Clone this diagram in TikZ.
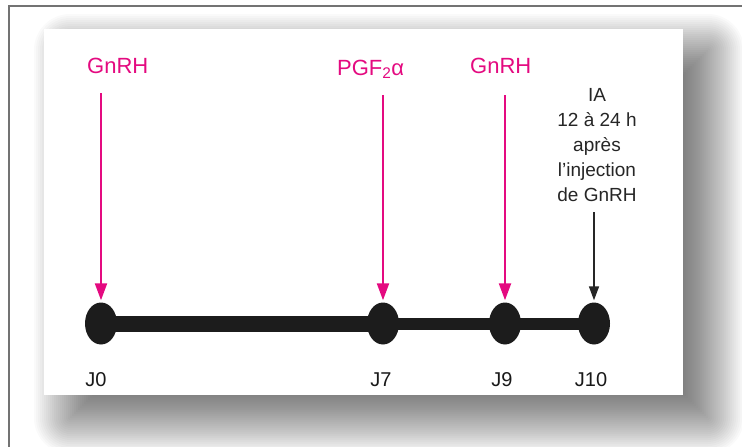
\documentclass[tikz,border=0pt]{standalone}
\usepackage{fontspec}
\setmainfont{Liberation Sans}
\usetikzlibrary{arrows.meta,shapes.geometric}
\definecolor{mag}{RGB}{228,10,128}
\definecolor{framegray}{RGB}{115,115,115}
\definecolor{dotblack}{RGB}{28,28,28}
\begin{document}
\begin{tikzpicture}[x=1pt,y=-1pt,
  lbl/.style={text=mag, font=\fontsize{22}{26}\selectfont, inner sep=0pt},
  iatext/.style={align=center, font=\fontsize{19}{25}\selectfont, inner sep=0pt, text=black!85},
  jlbl/.style={font=\fontsize{20}{24}\selectfont, inner sep=0pt, anchor=base, text=black!90},
  dot/.style={ellipse, fill=dotblack, minimum width=32pt, minimum height=42pt, inner sep=0pt},
  magarr/.style={draw=mag, line width=2.2pt, -{Triangle[width=12pt,length=17pt]}, shorten >=2pt},
  blkarr/.style={draw=black!85, line width=1.6pt, -{Triangle[width=10pt,length=14pt]}, shorten >=2pt},
  thickline/.style={draw=dotblack, line width=16pt},
  thinline/.style={draw=dotblack, line width=12pt}
]
\useasboundingbox (0,0) rectangle (742,447);
\clip (0,0) rectangle (742,447);
\fill[white] (0,0) rectangle (742,447);
% blurred drop shadow
\foreach \k in {0,...,35}{
  \pgfmathsetmacro\rr{max(36-2*\k,0.5)}
  \fill[black,opacity=0.02,rounded corners=\rr pt] (34+2*\k,14+2*\k) rectangle (744-2*\k,454-2*\k);
}
% panel
\fill[white] (44,29) rectangle (683,395);
% frame
\draw[framegray, line width=2pt] (9,470) -- (9,6) -- (760,6);

% timeline
\coordinate (c0) at (101,323.5);
\coordinate (c7) at (383,323.5);
\coordinate (c9) at (505,323.5);
\coordinate (c10) at (594,323.5);
\draw[thickline] (c0) -- (c7);
\draw[thinline] (c7) -- (c10);
\node[dot] (d0) at (c0) {};
\node[dot] (d7) at (c7) {};
\node[dot] (d9) at (c9) {};
\node[dot] (d10) at (c10) {};

% day labels
\node[jlbl] (j0) at (96,386) {J0};
\node[jlbl] (j7) at (381,386) {J7};
\node[jlbl] (j9) at (502,386) {J9};
\node[jlbl] (j10) at (591,386) {J10};

% top labels
\node[lbl, anchor=base west] (g1) at (87,73) {GnRH};
\node[lbl, anchor=base west] (pgf) at (337,75) {PGF\textsubscript{2}α};
\node[lbl, anchor=base west] (g2) at (470,73) {GnRH};
\node[iatext, anchor=north] (ia) at (597,88) {IA\\12 à 24 h\\après\\l'injection\\de GnRH};

% arrows
\coordinate (s0) at (101,93);
\coordinate (s7) at (383,95);
\coordinate (s9) at (505,95);
\coordinate (s10) at (594,212);
\draw[magarr] (s0) -- (d0.north);
\draw[magarr] (s7) -- (d7.north);
\draw[magarr] (s9) -- (d9.north);
\draw[blkarr] (s10) -- (d10.north);
\end{tikzpicture}
\end{document}
